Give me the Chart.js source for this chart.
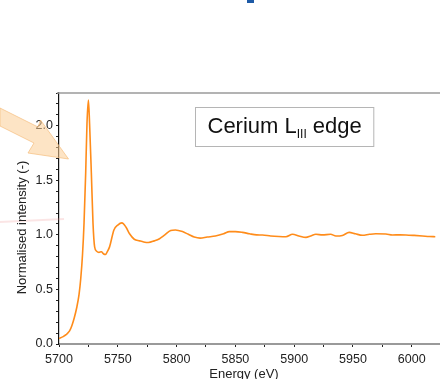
<!DOCTYPE html>
<html>
<head>
<meta charset="utf-8">
<title>Cerium LIII edge</title>
<script src="https://cdn.jsdelivr.net/npm/chart.js@4.4.1/dist/chart.umd.min.js"></script>
<style>
    html, body { margin: 0; padding: 0; background: #fff; }
    canvas { display: block; }
</style>
</head>
<body>
<canvas id="xanesChart" width="440" height="379"></canvas>
<script>
// Data
const energy = [
    5700, 5703, 5706, 5709, 5711, 5713, 5715, 5717, 5718.5, 5720,
    5721.3, 5722.7, 5723.8, 5725, 5726, 5727.5, 5728.9, 5730.3, 5732, 5734,
    5736, 5738, 5739.6, 5741, 5743, 5746.7, 5750, 5753.5, 5757, 5760,
    5764, 5768.5, 5772, 5776, 5781, 5785.5, 5790, 5795, 5799, 5805,
    5810, 5815, 5820, 5826, 5833, 5840, 5845, 5850, 5856, 5862,
    5868, 5873, 5880, 5887, 5893, 5898.6, 5904, 5910, 5914, 5918.5,
    5924, 5931, 5935.5, 5941, 5946.8, 5952, 5958, 5964, 5969.4, 5978,
    5983.5, 5990, 5995, 6002, 6009, 6015, 6020
];
const intensity = [
    0.05, 0.065, 0.085, 0.12, 0.17, 0.24, 0.33, 0.45, 0.60, 0.82,
    1.11, 1.57, 2.02, 2.235, 2.02, 1.57, 1.11, 0.89, 0.85, 0.84,
    0.845, 0.825, 0.82, 0.845, 0.89, 1.045, 1.09, 1.11, 1.07, 1.01,
    0.96, 0.945, 0.935, 0.93, 0.945, 0.965, 1.0, 1.04, 1.045, 1.03,
    1.005, 0.98, 0.97, 0.98, 0.99, 1.01, 1.03, 1.03, 1.023, 1.01,
    1.0, 0.999, 0.99, 0.985, 0.983, 1.005, 0.99, 0.977, 0.99, 1.005,
    1.0, 1.005, 0.99, 0.995, 1.023, 1.01, 0.996, 1.005, 1.01, 1.008,
    0.999, 1.0, 0.999, 0.995, 0.99, 0.985, 0.983
];
const xMin = 5700, xMax = 6024, xMinor = 25, xMajor = 50;
const yMin = 0, yMax = 2.3, yMinor = 0.1, yMajor = 0.5;

const xTitle = 'Energy (eV)';
const yTitle = 'Normalised intensity (-)';
const boxLabel = { main: 'Cerium L', sub: 'III', rest: ' edge' };

const fontFamily = '"Liberation Sans", Arial, Helvetica, sans-serif';

function isMajor(v, step) {
    const r = v / step;
    return Math.abs(r - Math.round(r)) < 1e-6;
}

// Slide decorations, frame, titles and the label box
const decorPlugin = {
    id: 'decor',
    afterDraw(chart) {
        const ctx = chart.ctx;
        const area = chart.chartArea;
        ctx.save();

        // top frame line
        ctx.strokeStyle = '#9a9a9a';
        ctx.lineWidth = 1.5;
        ctx.beginPath();
        ctx.moveTo(area.left - 2, area.top);
        ctx.lineTo(chart.width, area.top);
        ctx.stroke();

        // blue square from the slide title
        ctx.fillStyle = '#1d5aa6';
        ctx.fillRect(247, 0, 7, 3);

        // faint pink rule at left
        ctx.strokeStyle = 'rgba(240, 150, 150, 0.25)';
        ctx.lineWidth = 2;
        ctx.beginPath();
        ctx.moveTo(0, 222);
        ctx.lineTo(64, 219);
        ctx.stroke();

        // beige arrow pointing at the edge
        ctx.fillStyle = 'rgba(251, 205, 150, 0.55)';
        ctx.strokeStyle = 'rgba(245, 190, 125, 0.7)';
        ctx.lineWidth = 1;
        ctx.beginPath();
        ctx.moveTo(0, 108);
        ctx.lineTo(38, 127);
        ctx.lineTo(40.5, 120);
        ctx.lineTo(68.5, 159);
        ctx.lineTo(28, 153);
        ctx.lineTo(34, 143);
        ctx.lineTo(0, 126);
        ctx.closePath();
        ctx.fill();
        ctx.stroke();

        // axis titles
        ctx.fillStyle = '#222';
        ctx.font = '13px ' + fontFamily;
        ctx.textAlign = 'center';
        ctx.textBaseline = 'middle';
        ctx.fillText(xTitle, 244, 374);
        ctx.save();
        ctx.translate(22, 227.5);
        ctx.rotate(-Math.PI / 2);
        ctx.fillText(yTitle, 0, 0);
        ctx.restore();

        // label box
        const mainFont = '22px ' + fontFamily;
        const subFont = '12px ' + fontFamily;
        ctx.textAlign = 'left';
        ctx.textBaseline = 'alphabetic';
        ctx.font = mainFont;
        const wMain = ctx.measureText(boxLabel.main).width;
        const wRest = ctx.measureText(boxLabel.rest).width;
        ctx.font = subFont;
        const wSub = ctx.measureText(boxLabel.sub).width;
        const bx = 195.5, by = 107.5, pad = 12;
        const bw = pad * 2 + wMain + wSub + wRest, bh = 39;
        ctx.fillStyle = '#fff';
        ctx.fillRect(bx, by, bw, bh);
        ctx.strokeStyle = '#b5b5b5';
        ctx.lineWidth = 1;
        ctx.strokeRect(bx, by, bw, bh);
        ctx.fillStyle = '#111';
        let tx = bx + pad;
        const base = 132.5;
        ctx.font = mainFont;
        ctx.fillText(boxLabel.main, tx, base);
        tx += wMain;
        ctx.font = subFont;
        ctx.fillText(boxLabel.sub, tx, base + 5);
        tx += wSub;
        ctx.font = mainFont;
        ctx.fillText(boxLabel.rest, tx, base);

        ctx.restore();
    }
};

const ctx = document.getElementById('xanesChart').getContext('2d');
const xanesChart = new Chart(ctx, {
    type: 'line',
    data: {
        datasets: [{
            data: energy.map((e, i) => ({ x: e, y: intensity[i] })),
            borderColor: '#ff8c1a',
            borderWidth: 1.6,
            pointRadius: 0,
            fill: false,
            cubicInterpolationMode: 'monotone'
        }]
    },
    options: {
        responsive: false,
        animation: false,
        layout: {
            padding: { top: 93, right: 0, bottom: 0, left: 0 }
        },
        plugins: {
            legend: { display: false },
            tooltip: { enabled: false }
        },
        scales: {
            x: {
                type: 'linear',
                min: xMin,
                max: xMax,
                afterFit: (scale) => { scale.height = 35; },
                border: { color: '#9a9a9a', width: 2 },
                grid: {
                    drawOnChartArea: false,
                    drawTicks: true,
                    tickLength: 3,
                    tickColor: '#222'
                },
                ticks: {
                    stepSize: xMinor,
                    includeBounds: false,
                    autoSkip: false,
                    maxRotation: 0,
                    padding: 5,
                    color: '#222',
                    font: { family: fontFamily, size: 12.5 },
                    callback: (v) => isMajor(v, xMajor) ? String(v) : ''
                }
            },
            y: {
                min: yMin,
                max: yMax,
                afterFit: (scale) => { scale.width = 59; },
                border: { color: '#111', width: 1.2 },
                grid: {
                    drawOnChartArea: false,
                    drawTicks: true,
                    tickLength: 3,
                    tickColor: '#222'
                },
                ticks: {
                    stepSize: yMinor,
                    includeBounds: false,
                    autoSkip: false,
                    padding: 3,
                    color: '#222',
                    font: { family: fontFamily, size: 12.5 },
                    callback: (v) => isMajor(v, yMajor) ? v.toFixed(1) : ''
                }
            }
        }
    },
    plugins: [decorPlugin]
});
</script>
</body>
</html>
